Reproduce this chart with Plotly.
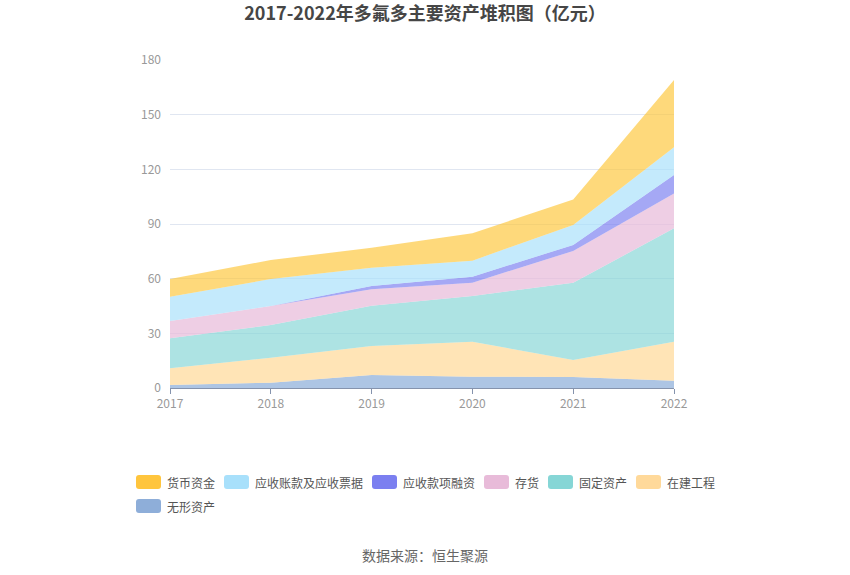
import plotly.graph_objects as go

years = ["2017", "2018", "2019", "2020", "2021", "2022"]
intangible = [1.6, 2.9, 7.1, 6.2, 6.0, 4.0]          # 无形资产
construction = [9.2, 13.7, 15.9, 19.2, 9.4, 21.4]    # 在建工程
fixed_assets = [16.5, 18.0, 22.2, 25.1, 42.4, 62.2]  # 固定资产
inventory = [9.5, 10.4, 9.0, 7.3, 17.4, 19.2]        # 存货
rec_financing = [0.0, 0.0, 1.8, 3.3, 3.3, 10.1]      # 应收款项融资
receivables = [13.3, 14.8, 10.0, 8.8, 11.0, 15.2]    # 应收账款及应收票据
cash = [9.7, 10.4, 11.0, 15.0, 14.0, 36.9]           # 货币资金

# (name, values, fill colour, legend colour) stacked bottom -> top
series = [
    ("无形资产", intangible, "rgba(142,174,217,0.72)", "#8eaed9"),
    ("在建工程", construction, "rgba(255,217,154,0.72)", "#ffd99a"),
    ("固定资产", fixed_assets, "rgba(134,214,214,0.68)", "#86d6d6"),
    ("存货", inventory, "rgba(232,187,217,0.72)", "#e8bbd9"),
    ("应收款项融资", rec_financing, "rgba(123,127,240,0.68)", "#7b7ff0"),
    ("应收账款及应收票据", receivables, "rgba(168,224,251,0.68)", "#a8e0fb"),
    ("货币资金", cash, "rgba(253,198,54,0.66)", "#ffc53d"),
]

fig = go.Figure()
for name, vals, color, _ in series:
    fig.add_trace(go.Scatter(
        x=years, y=vals, name=name, mode="lines",
        stackgroup="one", line=dict(width=0, color=color),
        fillcolor=color, hoverinfo="x+y+name", showlegend=False,
    ))

# plot area in pixels
L, R, T, B = 170, 674, 60, 388
W, H = R - L, B - T


def px(x):
    return (x - L) / W


def py(y):
    return (B - y) / H


def rounded(x0, y0, x1, y1, r=3):
    X0, X1 = px(x0), px(x1)
    Y0, Y1 = py(y0), py(y1)  # Y0 top (larger), Y1 bottom
    rx, ry = r / W, r / H
    return (f"M{X0+rx},{Y0} L{X1-rx},{Y0} Q{X1},{Y0} {X1},{Y0-ry} "
            f"L{X1},{Y1+ry} Q{X1},{Y1} {X1-rx},{Y1} L{X0+rx},{Y1} "
            f"Q{X0},{Y1} {X0},{Y1+ry} L{X0},{Y0-ry} Q{X0},{Y0} {X0+rx},{Y0} Z")


shapes = []
annotations = []
legend_items = list(reversed(series))
fs = 12
rows = [legend_items[:6], legend_items[6:]]
row_y = [482, 506]
for ri, row in enumerate(rows):
    x = 136
    yc = row_y[ri]
    for name, _, _, lc in row:
        shapes.append(dict(type="path", xref="paper", yref="paper",
                           path=rounded(x, yc - 7, x + 25, yc + 7),
                           fillcolor=lc, line=dict(width=0)))
        annotations.append(dict(text=name, xref="paper", yref="paper",
                                x=px(x + 29), y=py(yc), xanchor="left",
                                yanchor="middle", showarrow=False,
                                font=dict(size=fs, color="#555555")))
        x += 25 + 5 + fs * len(name) + 10

annotations.append(dict(text="数据来源：恒生聚源", xref="paper", yref="paper",
                        x=px(425), y=py(555), xanchor="center", yanchor="middle",
                        showarrow=False, font=dict(size=14, color="#666666")))

font_family = "Noto Sans CJK SC, Noto Sans, sans-serif"
fig.update_layout(
    width=850, height=575,
    paper_bgcolor="white", plot_bgcolor="white",
    margin=dict(l=L, r=850 - R, t=T, b=575 - B),
    title=dict(text="<b>2017-2022年多氟多主要资产堆积图（亿元）</b>",
               x=0.5, xanchor="center", y=1 - 14 / 575, yanchor="middle",
               font=dict(size=18, color="#464646", family=font_family)),
    font=dict(family=font_family, size=12, color="#999999"),
    xaxis=dict(type="category", showgrid=False, showline=True,
               linecolor="#8593ad", linewidth=1,
               ticks="outside", ticklen=5, tickcolor="#8593ad",
               tickfont=dict(size=12, color="#999999"),
               range=[0, 5], zeroline=False),
    yaxis=dict(range=[0, 180], tickvals=[0, 30, 60, 90, 120, 150, 180],
               showgrid=True, gridcolor="#e0e6f1", gridwidth=1,
               showline=False, zeroline=False, ticks="",
               ticklabelstandoff=8,
               tickfont=dict(size=12, color="#999999")),
    showlegend=False,
    shapes=shapes,
    annotations=annotations,
)

fig.write_html("out.html", config={"displayModeBar": False},
               post_script="document.body.style.margin='0';")
